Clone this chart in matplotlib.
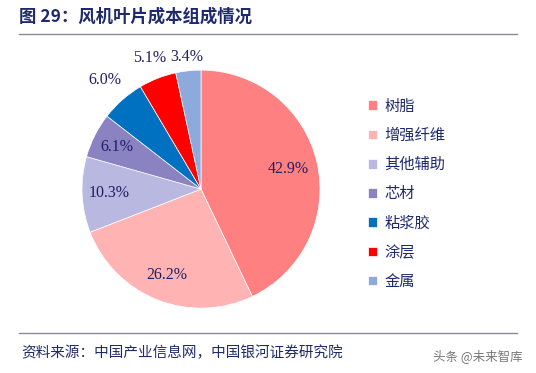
import numpy as np
import matplotlib.pyplot as plt

plt.rcParams['font.family'] = ['Noto Sans CJK SC', 'DejaVu Sans']

labels = ['树脂', '增强纤维', '其他辅助', '芯材', '粘浆胶', '涂层', '金属']
values = [42.9, 26.2, 10.3, 6.1, 6.0, 5.1, 3.4]
colors = ['#FF8080', '#FFB3B3', '#B8B8E0', '#8B82C2', '#0070C0', '#FF0000', '#8EA9DB']
label_dist = [0.75, 0.78, 0.77, 0.79, 1.22, 1.18, 1.12]

fig = plt.figure(figsize=(5.36, 3.73), dpi=100)

# title and rules
fig.text(0.035, 0.955, '图 29：风机叶片成本组成情况', fontsize=12.5, fontweight='bold',
         color='#1F2A6B', va='center', ha='left')
fig.add_artist(plt.Line2D([0.035, 0.965], [0.91, 0.91], color='#8A8A9A', lw=1))
fig.add_artist(plt.Line2D([0.035, 0.965], [0.107, 0.107], color='#8A8A9A', lw=1))
fig.text(0.04, 0.055, '资料来源：中国产业信息网，中国银河证券研究院', fontsize=10.5,
         style='italic', color='#1F2A6B', va='center', ha='left')
fig.text(0.975, 0.045, '头条 @未来智库', fontsize=9, color='#555555',
         va='center', ha='right', alpha=0.8)

ax = fig.add_axes([0.153, 0.174, 0.444, 0.638])
wedges, _ = ax.pie(values, colors=colors, startangle=90, counterclock=False,
                   wedgeprops=dict(linewidth=0.5, edgecolor='white'))
ax.set_xlim(-1.0, 1.0)
ax.set_ylim(-1.0, 1.0)
ax.set_aspect('equal')

for w, v, d in zip(wedges, values, label_dist):
    ang = np.deg2rad((w.theta1 + w.theta2) / 2)
    ax.text(d * np.cos(ang), d * np.sin(ang), f'{v:.1f}%', ha='center', va='center',
            fontsize=11.5, color='#1F1F66', family=['Liberation Serif'])

leg = fig.legend(wedges, labels, loc='upper left', bbox_to_anchor=(0.66, 0.775),
                 frameon=False, fontsize=11, handlelength=0.6, handleheight=0.6,
                 handletextpad=0.5, labelspacing=0.8, labelcolor='#1F2A6B')

fig.savefig('out.png', dpi=100)
